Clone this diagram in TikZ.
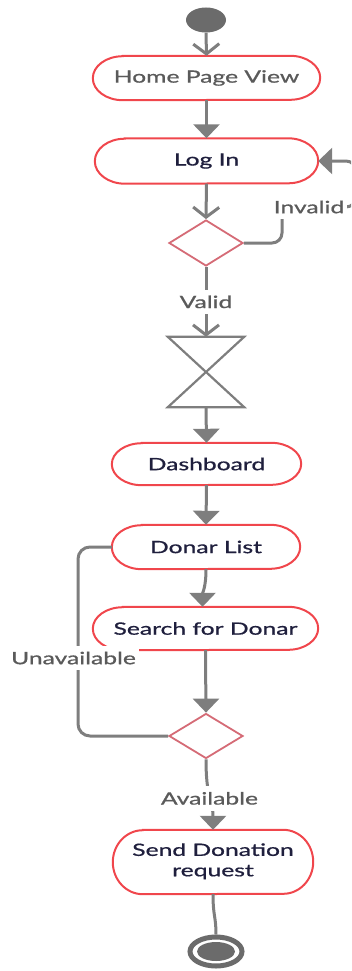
\documentclass[tikz,border=0pt]{standalone}
\usepackage{fontspec}
\setmainfont{Lato}[FakeBold=0.7]
\usepackage{graphicx}
\usetikzlibrary{shapes.geometric,arrows.meta}

\definecolor{pillred}{HTML}{F0464C}
\definecolor{decred}{HTML}{D56B76}
\definecolor{flowgray}{HTML}{7E7E7E}
\definecolor{dotgray}{HTML}{6B6B6B}
\definecolor{navy}{HTML}{1F1F3D}
\definecolor{labelgray}{HTML}{5A5A5A}

% labels are set slightly widened
\newcommand\widetext[1]{\scalebox{1.45}[1]{#1}}

% stadium outline with elliptical ends around a named node; #2 = half height
\newcommand\pillborder[2]{%
  \draw[pillline] ([xshift=30pt]#1.north west) -- ([xshift=-30pt]#1.north east)
    arc[start angle=90, end angle=-90, x radius=30pt, y radius=#2pt]
    -- ([xshift=30pt]#1.south west)
    arc[start angle=270, end angle=90, x radius=30pt, y radius=#2pt] -- cycle;}

\begin{document}
\begin{tikzpicture}[x=1pt,y=1pt,
  every node/.style={font=\fontsize{17}{20.4}\selectfont},
  act/.style={inner sep=0pt, text=navy},
  pillline/.style={draw=pillred, line width=2pt},
  decision/.style={diamond, draw=decred, line width=1.8pt, fill=white, inner sep=0pt,
    minimum width=74pt, minimum height=46pt, aspect=1.6},
  flow/.style={draw=flowgray, line width=3pt},
  solidtip/.style={flow, -{Triangle[width=26pt,length=14pt]}},
  opentip/.style={flow, -{Straight Barb[width=26pt,length=10pt]}},
  guard/.style={fill=white, text=labelgray, inner xsep=3pt, inner ysep=6pt}]

\useasboundingbox (0,-971) rectangle (351,0);
\clip (0,-971) rectangle (351,0);

% activities
\node[ellipse, fill=dotgray, minimum width=40pt, minimum height=25pt, inner sep=0pt] (start) at (206,-20) {};
\node[act, text=labelgray, minimum width=227pt, minimum height=44pt] (home) at (206.5,-78) {\widetext{Home Page View}};
\node[act, minimum width=223pt, minimum height=45pt] (login) at (206.5,-161) {\widetext{Log In}};
\node[decision] (chk) at (206,-243) {};
\node[minimum width=76pt, minimum height=70pt, inner sep=0pt] (sync) at (206,-372) {};
\node[act, minimum width=189pt, minimum height=42pt] (dash) at (206.5,-464) {\widetext{Dashboard}};
\node[act, minimum width=188pt, minimum height=44pt] (donors) at (206,-547) {\widetext{Donar List}};
\node[act, minimum width=225pt, minimum height=43pt] (search) at (205.5,-628.5) {\widetext{Search for Donar}};
\node[decision, minimum height=45pt] (avail) at (206,-736) {};
\node[act, minimum width=200pt, minimum height=64pt] (send) at (213,-862)
  {\widetext{\begin{tabular}{@{}c@{}}Send Donation\\request\end{tabular}}};
\node[ellipse, draw=dotgray, line width=5pt, minimum width=52pt, minimum height=29pt, inner sep=0pt] (stop) at (216,-951.5) {};
\node[ellipse, fill=dotgray, minimum width=38pt, minimum height=19pt, inner sep=0pt] (stopdot) at (stop.center) {};

\pillborder{home}{22}
\pillborder{login}{22.5}
\pillborder{dash}{21}
\pillborder{donors}{22}
\pillborder{search}{21.5}
\pillborder{send}{32}

% synchronisation bar drawn as an hourglass
\draw[flowgray, line width=2.2pt, line join=miter]
  (sync.north west) -- (sync.north east) -- (sync.south west) -- (sync.south east) -- cycle;

% flow
\draw[opentip] (start.south) -- (home.north);
\draw[solidtip] (home.south) -- (login.north);
\draw[opentip] (login.south) -- (chk.north);
\draw[opentip] (chk.south) -- node[guard] (valid) {\widetext{Valid}} (sync.north);
\draw[solidtip] (sync.south) -- (dash.north);
\draw[solidtip] (dash.south) -- (donors.north);
\draw[solidtip] (donors.south) .. controls +(0,-18) and +(0,14) .. ([xshift=-3pt]search.north);
\draw[solidtip] (search.south) .. controls +(0,-35) and +(0,22) .. (avail.north);
\draw[solidtip] (avail.south) .. controls +(0,-40) and +(0,30) .. node[guard, pos=0.5] (availlbl) {\widetext{Available}} (send.north);
\draw[flow] (send.south) .. controls +(0,-22) and +(0,18) .. (stop.north);

% loops
\draw[solidtip, rounded corners=10pt]
  (chk.east) -- (282,-243) -- (282,-207) -- (356,-207) -- (356,-161) -- (login.east);
\node[guard] (invalid) at (309,-207) {\widetext{Invalid}};

\draw[flow, rounded corners=12pt] (avail.west) -| (78,-650) |- (donors.west);
\node[guard] (unavail) at (73.5,-658) {\widetext{Unavailable}};

\end{tikzpicture}
\end{document}
